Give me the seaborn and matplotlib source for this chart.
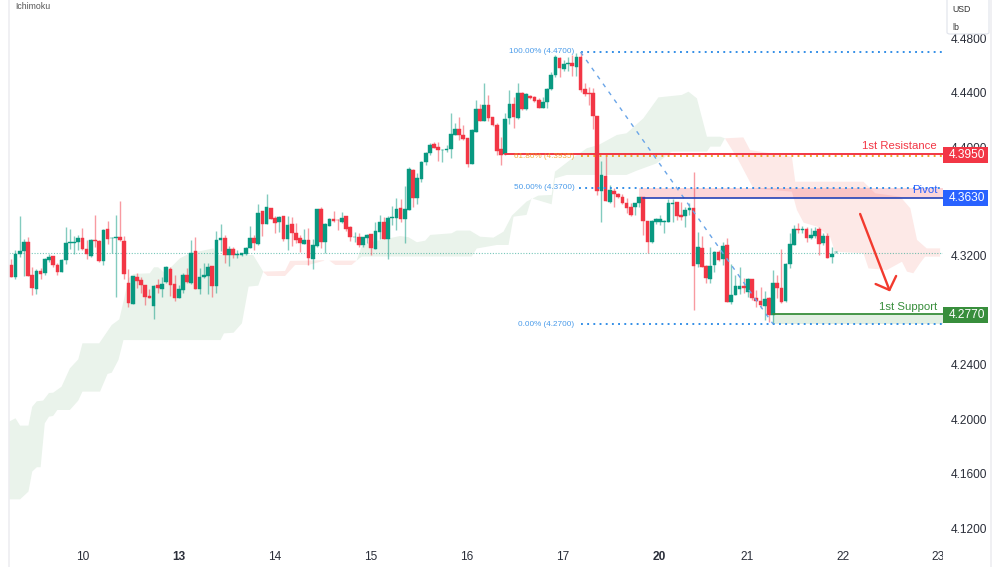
import numpy as np
import matplotlib
matplotlib.use("Agg")
import matplotlib.pyplot as plt
from matplotlib.patches import Rectangle, FancyBboxPatch
from matplotlib.transforms import Bbox
import seaborn as sns

sns.set_theme(style="white")
plt.rcParams['font.family'] = ['Liberation Sans', 'DejaVu Sans']

# Hourly candles, one list per field
opens = [4.3134,4.3048,4.3213,4.3237,4.3303,4.3058,4.2958,4.3088,4.3073,4.3171,
         4.3200,4.3134,4.3085,4.3171,4.3293,4.3298,4.3303,4.3330,4.3252,4.3200,
         4.3318,4.3313,4.3164,4.3396,4.3330,4.3335,4.3337,4.3313,4.3004,4.2850,
         4.3048,4.3022,4.2985,4.2909,4.2835,4.2985,4.2960,4.3007,4.3105,4.2995,
         4.2894,4.2951,4.3058,4.3004,4.3235,4.2958,4.3044,4.3053,4.3124,4.2982,
         4.3316,4.3335,4.3208,4.3249,4.3210,4.3208,4.3218,4.3259,4.3335,4.3286,
         4.3531,4.3436,4.3556,4.3477,4.3448,4.3494,4.3325,4.3433,4.3369,4.3330,
         4.3291,4.3318,4.3176,4.3276,4.3546,4.3301,4.3423,4.3470,4.3465,4.3453,
         4.3492,4.3411,4.3338,4.3338,4.3279,4.3333,4.3360,4.3254,4.3374,4.3453,
         4.3323,4.3482,4.3480,4.3551,4.3470,4.3539,4.3832,4.3629,4.3766,4.3894,
         4.3955,4.4021,4.3999,4.3977,4.3980,4.3987,4.4090,4.4134,4.4090,4.4068,
         4.3879,4.4114,4.4281,4.4195,4.4308,4.4220,4.4163,4.3984,4.3948,4.4212,
         4.4318,4.4215,4.4396,4.4278,4.4376,4.4372,4.4345,4.4286,4.4332,4.4425,
         4.4531,4.4653,4.4575,4.4612,4.4616,4.4592,4.4666,4.4425,4.4401,4.4396,
         4.4229,4.3681,4.3791,4.3599,4.3680,4.3656,4.3631,4.3592,4.3562,4.3562,
         4.3587,4.3631,4.3457,4.3305,4.3452,4.3450,4.3452,4.3452,4.3585,4.3594,
         4.3501,4.3494,4.3540,4.3550,4.3141,4.3256,4.3126,4.3031,4.3134,4.3232,
         4.3175,4.3281,4.2859,4.2913,4.2960,4.2979,4.2938,4.3028,4.2889,4.2869,
         4.2835,4.2889,4.2766,4.3001,4.2965,4.2869,4.3141,4.3283,4.3398,4.3391,
         4.3396,4.3330,4.3349,4.3396,4.3293,4.3347,4.3190,4.3229]
closes = [4.3044,4.3215,4.3240,4.3303,4.3056,4.2963,4.3090,4.3068,4.3176,4.3196,
          4.3134,4.3085,4.3171,4.3298,4.3301,4.3303,4.3335,4.3249,4.3213,4.3318,
          4.3313,4.3164,4.3391,4.3325,4.3335,4.3342,4.3318,4.3066,4.2855,4.3051,
          4.3019,4.2987,4.2901,4.2894,4.2980,4.2963,4.2995,4.3119,4.2987,4.2889,
          4.2955,4.3063,4.3009,4.3222,4.2960,4.3044,4.3058,4.3119,4.2982,4.3318,
          4.3330,4.3208,4.3252,4.3205,4.3215,4.3222,4.3262,4.3330,4.3293,4.3519,
          4.3433,4.3561,4.3472,4.3441,4.3485,4.3323,4.3428,4.3367,4.3318,4.3298,
          4.3318,4.3183,4.3281,4.3546,4.3301,4.3433,4.3472,4.3458,4.3463,4.3480,
          4.3399,4.3338,4.3340,4.3279,4.3340,4.3355,4.3257,4.3382,4.3448,4.3323,
          4.3480,4.3487,4.3548,4.3470,4.3543,4.3837,4.3629,4.3771,4.3894,4.3955,
          4.4019,4.3994,4.3980,4.3982,4.3984,4.4095,4.4134,4.4090,4.4058,4.3874,
          4.4124,4.4281,4.4195,4.4313,4.4217,4.4163,4.3975,4.3943,4.4210,4.4318,
          4.4220,4.4401,4.4278,4.4389,4.4359,4.4340,4.4286,4.4335,4.4428,4.4531,
          4.4661,4.4580,4.4612,4.4616,4.4597,4.4661,4.4421,4.4391,4.4391,4.4229,
          4.3681,4.3796,4.3607,4.3685,4.3656,4.3634,4.3592,4.3550,4.3504,4.3587,
          4.3631,4.3460,4.3305,4.3460,4.3469,4.3469,4.3457,4.3587,4.3589,4.3494,
          4.3484,4.3538,4.3550,4.3129,4.3264,4.3122,4.3036,4.3129,4.3232,4.3171,
          4.3276,4.2864,4.2911,4.2977,4.2977,4.2962,4.3031,4.2889,4.2869,4.2840,
          4.2884,4.2766,4.2999,4.2965,4.2859,4.3144,4.3288,4.3398,4.3393,4.3398,
          4.3335,4.3354,4.3381,4.3286,4.3347,4.3188,4.3215,4.3232]
highs = [4.3176,4.3244,4.3494,4.3323,4.3337,4.3122,4.3102,4.3110,4.3183,4.3215,
         4.3200,4.3147,4.3178,4.3416,4.3401,4.3347,4.3352,4.3404,4.3318,4.3325,
         4.3499,4.3318,4.3396,4.3455,4.3337,4.3499,4.3602,4.3347,4.3102,4.3053,
         4.3078,4.3044,4.2987,4.2958,4.2985,4.3029,4.3044,4.3129,4.3122,4.3061,
         4.2985,4.3073,4.3110,4.3318,4.3337,4.3110,4.3151,4.3147,4.3129,4.3382,
         4.3436,4.3352,4.3274,4.3264,4.3244,4.3225,4.3264,4.3421,4.3355,4.3580,
         4.3531,4.3656,4.3556,4.3497,4.3497,4.3497,4.3497,4.3490,4.3445,4.3355,
         4.3399,4.3404,4.3323,4.3548,4.3558,4.3441,4.3477,4.3534,4.3475,4.3521,
         4.3494,4.3421,4.3379,4.3367,4.3343,4.3360,4.3362,4.3453,4.3502,4.3490,
         4.3494,4.3568,4.3629,4.3617,4.3715,4.3857,4.3840,4.3808,4.3901,4.3962,
         4.4033,4.4041,4.4036,4.3987,4.4016,4.4251,4.4176,4.4220,4.4163,4.4070,
         4.4131,4.4347,4.4318,4.4472,4.4384,4.4225,4.4176,4.4073,4.4249,4.4421,
         4.4372,4.4470,4.4408,4.4396,4.4384,4.4376,4.4359,4.4372,4.4433,4.4555,
         4.4678,4.4666,4.4641,4.4661,4.4678,4.4690,4.4702,4.4470,4.4445,4.4433,
         4.4229,4.3901,4.3938,4.3722,4.3697,4.3665,4.3656,4.3624,4.3587,4.3592,
         4.3636,4.3631,4.3460,4.3465,4.3482,4.3501,4.3465,4.3616,4.3616,4.3594,
         4.3594,4.3562,4.3592,4.3817,4.3379,4.3347,4.3134,4.3264,4.3239,4.3244,
         4.3305,4.3330,4.3141,4.3060,4.3122,4.3036,4.3036,4.3031,4.2950,4.2975,
         4.2945,4.2901,4.3097,4.3060,4.3249,4.3151,4.3367,4.3428,4.3440,4.3420,
         4.3411,4.3403,4.3411,4.3411,4.3367,4.3367,4.3264,4.3239]
lows = [4.3044,4.3034,4.3196,4.3056,4.3056,4.2911,4.2921,4.3034,4.3061,4.3159,
        4.3122,4.3058,4.3085,4.3142,4.3249,4.3215,4.3244,4.3244,4.3176,4.3193,
        4.3264,4.3159,4.3137,4.3289,4.3225,4.2901,4.3308,4.3029,4.2823,4.2848,
        4.2963,4.2926,4.2843,4.2894,4.2735,4.2926,4.2897,4.3004,4.2906,4.2867,
        4.2889,4.2931,4.3004,4.2995,4.2955,4.2919,4.3039,4.2921,4.2901,4.2931,
        4.3235,4.3151,4.3129,4.3183,4.3183,4.3200,4.3208,4.3257,4.3244,4.3279,
        4.3347,4.3436,4.3472,4.3372,4.3379,4.3311,4.3245,4.3276,4.3294,4.3230,
        4.3291,4.3134,4.3105,4.3269,4.3262,4.3225,4.3423,4.3453,4.3392,4.3445,
        4.3387,4.3313,4.3301,4.3264,4.3269,4.3298,4.3208,4.3252,4.3323,4.3323,
        4.3178,4.3428,4.3392,4.3453,4.3298,4.3539,4.3563,4.3583,4.3747,4.3869,
        4.3945,4.3992,4.3899,4.3894,4.3967,4.3923,4.4090,4.4053,4.4053,4.3852,
        4.3877,4.4109,4.4195,4.4195,4.4195,4.4158,4.3945,4.3869,4.3943,4.4171,
        4.4139,4.4210,4.4273,4.4273,4.4352,4.4335,4.4286,4.4286,4.4286,4.4421,
        4.4514,4.4519,4.4563,4.4563,4.4523,4.4523,4.4403,4.4376,4.4310,4.4131,
        4.3649,4.3447,4.3605,4.3587,4.3558,4.3624,4.3582,4.3514,4.3494,4.3501,
        4.3562,4.3354,4.3224,4.3298,4.3433,4.3428,4.3367,4.3452,4.3452,4.3465,
        4.3465,4.3416,4.3501,4.2803,4.3122,4.3117,4.2999,4.2999,4.3085,4.3166,
        4.3134,4.2864,4.2847,4.2913,4.2921,4.2930,4.2901,4.2876,4.2828,4.2815,
        4.2730,4.2717,4.2705,4.2889,4.2857,4.2864,4.3109,4.3281,4.3367,4.3367,
        4.3305,4.3322,4.3330,4.3207,4.3281,4.3183,4.3146,4.3224]

# Ichimoku cloud outlines (bar number, price)
green1_top_x = [-0.55,1.0,2.1,4.1,5.0,6.1,7.6,9.0,10.0,12.0,14.0,16.0,17.0,21.0,24.0,25.8,26.8,28.0,29.2,33.1,34.1,35.1,36.7,40.3,42.7,48.3,49.1,57.8,60.2]
green1_top_y = [4.1982,4.2007,4.1953,4.1953,4.2092,4.2132,4.2137,4.2193,4.2195,4.2239,4.2374,4.2440,4.2558,4.2558,4.2693,4.2734,4.2864,4.3036,4.3068,4.3073,4.3117,4.3117,4.3073,4.3183,4.3220,4.3256,4.3207,4.3207,4.3085]
green1_bot_x = [-0.55,2.1,4.1,5.0,6.1,7.0,8.0,9.0,10.0,11.0,14.0,16.0,17.0,21.2,23.0,24.0,25.6,26.8,50.0,50.8,53.1,55.1,56.7,59.0,60.2]
green1_bot_y = [4.1411,4.1411,4.1468,4.1615,4.1647,4.1647,4.1970,4.2019,4.2024,4.2068,4.2068,4.2137,4.2203,4.2203,4.2333,4.2342,4.2436,4.2582,4.2582,4.2631,4.2636,4.2705,4.2975,4.2982,4.3085]
red1_top_x = [60.1,65.4,66.6,70.6,74.8]
red1_top_y = [4.3085,4.3090,4.3164,4.3166,4.3169]
red1_bot_x = [61.2,65.4,67.8,71.0,74.6]
red1_bot_y = [4.3053,4.3053,4.3134,4.3134,4.3164]
red2_top_x = [76.0,82.5]
red2_top_y = [4.3166,4.3166]
red2_bot_x = [77.4,81.3]
red2_bot_y = [4.3134,4.3134]
green2_top_x = [82.5,83.7,85.3,92.9,94.9,96.9,98.9,100.1,105.2,106.4,109.6,112.0,115.2,117.6,119.6,123.1,125.9,129.1,129.9,133.5,137.5,140.3,144.7,147.0,151.0,154.6,160.2,161.8,163.8,166.2,169.4,170.5]
green2_top_y = [4.3166,4.3269,4.3298,4.3347,4.3338,4.3301,4.3313,4.3355,4.3367,4.3387,4.3387,4.3342,4.3335,4.3379,4.3497,4.3600,4.3644,4.3649,4.3820,4.3906,4.3992,4.4016,4.4090,4.4102,4.4212,4.4366,4.4384,4.4408,4.4359,4.4077,4.4077,4.4065]
green2_bot_x = [82.5,83.7,110.0,111.2,116.0,118.8,120.0,123.1,124.3,129.1,129.9,132.7,147.0,149.4,154.2,157.8,166.2,167.0,169.4,170.5]
green2_bot_y = [4.3166,4.3196,4.3196,4.3255,4.3281,4.3281,4.3489,4.3502,4.3624,4.3580,4.3771,4.3796,4.3796,4.3827,4.3881,4.3967,4.3967,4.4004,4.4004,4.4065]
red3_top_x = [170.5,174.9,176.5,186.5,187.3,203.6,206.4,212.4,214.8,216.4,218.7,221.9]
red3_top_y = [4.4065,4.4072,4.3979,4.3930,4.3746,4.3746,4.3661,4.3636,4.3550,4.3318,4.3256,4.3256]
red3_bot_x = [170.5,173.7,177.3,186.5,187.7,189.3,192.5,195.6,196.8,203.6,204.8,209.2,212.8,214.0,215.5,217.1,218.3,221.9]
red3_bot_y = [4.4065,4.3906,4.3697,4.3673,4.3538,4.3445,4.3416,4.3342,4.3232,4.3220,4.3109,4.3097,4.3158,4.3085,4.3073,4.3146,4.3195,4.3195]

# Levels
fib_levels = [4.4700, 4.3935, 4.3700, 4.2700]
fib_names = ['100.00% (4.4700)', '61.80% (4.3935)', '50.00% (4.3700)', '0.00% (4.2700)']
fib_colors = ['#2b8ae6', '#f0a020', '#2b8ae6', '#2b8ae6']
resistance, pivot, support = 4.3950, 4.3630, 4.2770
last_price = 4.3225
arrow_x = [202.8, 209.8]
arrow_y = [4.3509, 4.2950]
arrow_head_x = [206.5, 209.8, 211.4]
arrow_head_y = [4.2994, 4.2950, 4.3053]

# 4.36 and 4.28 are hidden behind the level boxes in the original
y_ticks = [4.48, 4.44, 4.40, 4.32, 4.24, 4.20, 4.16, 4.12]
x_ticks = [17.1, 40.1, 63.0, 85.9, 108.9, 131.8, 154.8, 175.9, 198.7, 221.4]
x_labels = ['10', '13', '14', '15', '16', '17', '20', '21', '22', '23']
bold_labels = ['13', '20']

UP = '#089981'
DOWN = '#F23645'
BLUE = '#2962FF'
GREEN = '#388E3C'
CLOUD_UP = '#EAF3EB'
CLOUD_DOWN = '#FDE9E7'

fig = plt.figure(figsize=(9.92, 5.67), dpi=100, facecolor='white')
ax = fig.add_axes([9/992, 1 - 543/567, 934/992, 543/567])


def cloud(top_x, top_y, bot_x, bot_y, color):
    ax.fill(top_x + bot_x[::-1], top_y + bot_y[::-1], color=color, lw=0, zorder=1)


cloud(green1_top_x, green1_top_y, green1_bot_x, green1_bot_y, CLOUD_UP)
cloud(red1_top_x, red1_top_y, red1_bot_x, red1_bot_y, CLOUD_DOWN)
cloud(red2_top_x, red2_top_y, red2_bot_x, red2_bot_y, CLOUD_DOWN)
cloud(green2_top_x, green2_top_y, green2_bot_x, green2_bot_y, CLOUD_UP)
cloud(red3_top_x, red3_top_y, red3_bot_x, red3_bot_y, CLOUD_DOWN)

# Zones under the pivot and support lines
ax.fill_between([150, 222.6], pivot, fib_levels[2], color=DOWN, alpha=0.2, lw=0, zorder=1.5)
ax.fill_between([182, 222.6], fib_levels[3], support, color=GREEN, alpha=0.14, lw=0, zorder=1.5)

# Last price
sns.lineplot(x=[-0.55, 222.6], y=[last_price, last_price], ax=ax, color=UP, alpha=0.55,
             linewidth=0.8, linestyle=(0, (1, 1.5)), zorder=2)

# Candles
bars = np.arange(len(opens))
o = np.array(opens)
c = np.array(closes)
colors = [UP if b >= a else DOWN for a, b in zip(opens, closes)]
ax.vlines(bars, lows, highs, colors=colors, linewidth=1.0, alpha=0.5, zorder=3)
ax.bar(bars, np.abs(c - o), bottom=np.minimum(o, c), width=0.88, color=colors,
       edgecolor=colors, linewidth=0.3, zorder=4)

# Fib retracement
for level, name, col in zip(fib_levels, fib_names, fib_colors):
    start = 136 if level != fib_levels[2] else 135.6
    sns.lineplot(x=[start, 222.6], y=[level, level], ax=ax, color=col, linewidth=1.35,
                 linestyle=(0, (1, 2.3)), zorder=5)
    ax.text(134.5, level, name, color=col, fontsize=5.9, ha='right', va='center', zorder=6, alpha=0.85)
sns.lineplot(x=[136, 182], y=[fib_levels[0], fib_levels[3]], ax=ax, color='#6aa5e8', linewidth=1.0,
             linestyle=(0, (3, 4)), zorder=5)

# Support and resistance
sns.lineplot(x=[118, 222.6], y=[resistance, resistance], ax=ax, color=DOWN, linewidth=1.4, zorder=5)
sns.lineplot(x=[151, 222.6], y=[pivot, pivot], ax=ax, color='#2443b8', linewidth=1.2, zorder=5)
sns.lineplot(x=[182, 222.6], y=[support, support], ax=ax, color=GREEN, linewidth=1.3, zorder=5)
ax.text(221.2, 4.4010, '1st Resistance', color=DOWN, fontsize=8.2, ha='right', va='center', zorder=6)
ax.text(221.2, 4.3685, 'Pivot', color=BLUE, fontsize=8.2, ha='right', va='center', zorder=6)
ax.text(221.2, 4.2828, '1st Support', color=GREEN, fontsize=8.2, ha='right', va='center', zorder=6)

# Down arrow
ax.plot(arrow_x, arrow_y, color='#F23A2E', linewidth=1.7, zorder=6, solid_capstyle='round')
ax.plot(arrow_head_x, arrow_head_y, color='#F23A2E', linewidth=1.7, zorder=6, solid_capstyle='round')

ax.set_xlim(-0.55, 222.6)
ax.set_ylim(4.1090, 4.5082)
ax.set_xticks(x_ticks)
ax.set_xticklabels(x_labels)
ax.set_yticks(y_ticks)
ax.set_yticklabels(['%.4f' % t for t in y_ticks])
ax.yaxis.tick_right()
ax.tick_params(axis='y', length=0, pad=5.8, labelsize=8.6, labelcolor='#2a2e39')
ax.tick_params(axis='x', length=0, pad=5.5, labelsize=8.6, labelcolor='#2a2e39')
ax.set_xlabel('')
ax.set_ylabel('')
ax.grid(False)
sns.despine(ax=ax, left=True, bottom=True, right=True, top=True)

# The last day label is cut off by the price scale
clip = Bbox([[0, 0], [943, 567]])
for lab in ax.get_xticklabels():
    lab.set_clip_box(clip)
    lab.set_clip_on(True)
    if lab.get_text() in bold_labels:
        lab.set_fontweight('bold')


def fx(x):
    return x / 992


def fy(y):
    return 1 - y / 567


# Panel frame lines
for px, top in [(9, 0), (991, 0)]:
    fig.add_artist(plt.Line2D([fx(px), fx(px)], [fy(top), 0], color='#EDEEF1', linewidth=1.2, zorder=1))

# Price scale boxes sit on top of the tick labels
for top, col, value in [(147, DOWN, resistance), (190, BLUE, pivot), (307, GREEN, support)]:
    fig.add_artist(Rectangle((fx(943), fy(top + 15.5)), 44.5/992, 15.5/567, facecolor=col, edgecolor='none',
                             transform=fig.transFigure, zorder=8))
    fig.text(fx(966.5), fy(top + 7.8), '%.4f' % value, color='white', fontsize=8.6, ha='center', va='center', zorder=9)

# Currency and unit box
fig.add_artist(FancyBboxPatch((fx(947), fy(34)), 42/992, 36/567, boxstyle='round,pad=0,rounding_size=0.003',
                              facecolor='white', edgecolor='#E0E3EB', linewidth=0.8,
                              transform=fig.transFigure, zorder=8))
fig.text(fx(952), fy(9), 'USD', color='#333333', fontsize=6.3, ha='left', va='center', zorder=9)
fig.text(fx(952), fy(27), 'lb', color='#333333', fontsize=6.3, ha='left', va='center', zorder=9)

fig.text(fx(15), fy(6.5), 'Ichimoku', color='#555555', fontsize=6.3, ha='left', va='center', zorder=9)

plt.savefig('out.png', dpi=100)
